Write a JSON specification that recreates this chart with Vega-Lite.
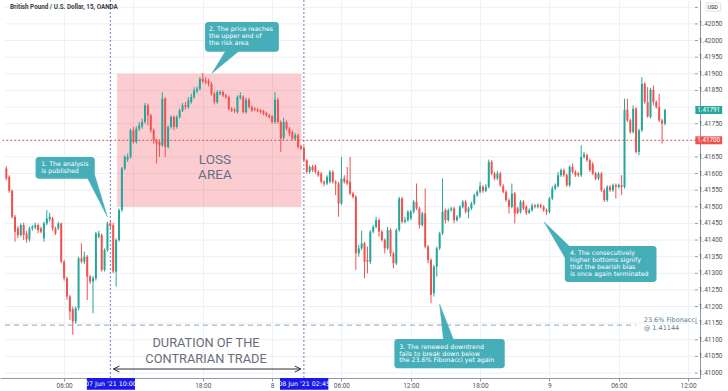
{
"$schema":"https://vega.github.io/schema/vega-lite/v6.json",
"width":700,"height":378,"padding":{"left":0,"top":0,"right":28,"bottom":13},"autosize":"none",
"background":"#ffffff",
"config":{"view":{"stroke":null},"font":"Roboto","axis":{"title":null}},
"datasets":{
"candles":[
{"t":"2021-06-07T01:00Z","o":1.41615,"h":1.41622,"l":1.41580,"c":1.41585},
{"t":"2021-06-07T01:15Z","o":1.41590,"h":1.41595,"l":1.41542,"c":1.41548},
{"t":"2021-06-07T01:30Z","o":1.41548,"h":1.41552,"l":1.41465,"c":1.41470},
{"t":"2021-06-07T01:45Z","o":1.41470,"h":1.41475,"l":1.41395,"c":1.41425},
{"t":"2021-06-07T02:00Z","o":1.41435,"h":1.41442,"l":1.41405,"c":1.41415},
{"t":"2021-06-07T02:15Z","o":1.41415,"h":1.41450,"l":1.41410,"c":1.41445},
{"t":"2021-06-07T02:30Z","o":1.41445,"h":1.41452,"l":1.41400,"c":1.41415},
{"t":"2021-06-07T02:45Z","o":1.41420,"h":1.41428,"l":1.41392,"c":1.41402},
{"t":"2021-06-07T03:00Z","o":1.41402,"h":1.41440,"l":1.41395,"c":1.41435},
{"t":"2021-06-07T03:15Z","o":1.41435,"h":1.41445,"l":1.41428,"c":1.41440},
{"t":"2021-06-07T03:30Z","o":1.41438,"h":1.41452,"l":1.41432,"c":1.41445},
{"t":"2021-06-07T03:45Z","o":1.41445,"h":1.41450,"l":1.41420,"c":1.41430},
{"t":"2021-06-07T04:00Z","o":1.41435,"h":1.41440,"l":1.41420,"c":1.41425},
{"t":"2021-06-07T04:15Z","o":1.41405,"h":1.41455,"l":1.41395,"c":1.41450},
{"t":"2021-06-07T04:30Z","o":1.41450,"h":1.41490,"l":1.41445,"c":1.41465},
{"t":"2021-06-07T04:45Z","o":1.41462,"h":1.41482,"l":1.41455,"c":1.41470},
{"t":"2021-06-07T05:00Z","o":1.41465,"h":1.41470,"l":1.41428,"c":1.41435},
{"t":"2021-06-07T05:15Z","o":1.41435,"h":1.41440,"l":1.41415,"c":1.41420},
{"t":"2021-06-07T05:30Z","o":1.41435,"h":1.41455,"l":1.41430,"c":1.41450},
{"t":"2021-06-07T05:45Z","o":1.41450,"h":1.41452,"l":1.41330,"c":1.41335},
{"t":"2021-06-07T06:00Z","o":1.41335,"h":1.41340,"l":1.41278,"c":1.41285},
{"t":"2021-06-07T06:15Z","o":1.41285,"h":1.41290,"l":1.41220,"c":1.41230},
{"t":"2021-06-07T06:30Z","o":1.41230,"h":1.41235,"l":1.41160,"c":1.41185},
{"t":"2021-06-07T06:45Z","o":1.41192,"h":1.41200,"l":1.41115,"c":1.41155},
{"t":"2021-06-07T07:00Z","o":1.41155,"h":1.41200,"l":1.41148,"c":1.41195},
{"t":"2021-06-07T07:15Z","o":1.41195,"h":1.41350,"l":1.41188,"c":1.41345},
{"t":"2021-06-07T07:30Z","o":1.41345,"h":1.41390,"l":1.41330,"c":1.41335},
{"t":"2021-06-07T07:45Z","o":1.41335,"h":1.41365,"l":1.41328,"c":1.41350},
{"t":"2021-06-07T08:00Z","o":1.41350,"h":1.41355,"l":1.41220,"c":1.41290},
{"t":"2021-06-07T08:15Z","o":1.41290,"h":1.41295,"l":1.41268,"c":1.41275},
{"t":"2021-06-07T08:30Z","o":1.41275,"h":1.41292,"l":1.41180,"c":1.41285},
{"t":"2021-06-07T08:45Z","o":1.41285,"h":1.41425,"l":1.41278,"c":1.41420},
{"t":"2021-06-07T09:00Z","o":1.41410,"h":1.41428,"l":1.41405,"c":1.41420},
{"t":"2021-06-07T09:15Z","o":1.41415,"h":1.41420,"l":1.41305,"c":1.41310},
{"t":"2021-06-07T09:30Z","o":1.41310,"h":1.41375,"l":1.41305,"c":1.41370},
{"t":"2021-06-07T09:45Z","o":1.41370,"h":1.41455,"l":1.41365,"c":1.41450},
{"t":"2021-06-07T10:00Z","o":1.41450,"h":1.41456,"l":1.41435,"c":1.41442},
{"t":"2021-06-07T10:15Z","o":1.41445,"h":1.41452,"l":1.41300,"c":1.41305},
{"t":"2021-06-07T10:30Z","o":1.41305,"h":1.41405,"l":1.41260,"c":1.41400},
{"t":"2021-06-07T10:45Z","o":1.41400,"h":1.41495,"l":1.41395,"c":1.41490},
{"t":"2021-06-07T11:00Z","o":1.41490,"h":1.41620,"l":1.41485,"c":1.41615},
{"t":"2021-06-07T11:15Z","o":1.41615,"h":1.41655,"l":1.41610,"c":1.41650},
{"t":"2021-06-07T11:30Z","o":1.41642,"h":1.41660,"l":1.41635,"c":1.41650},
{"t":"2021-06-07T11:45Z","o":1.41650,"h":1.41735,"l":1.41645,"c":1.41730},
{"t":"2021-06-07T12:00Z","o":1.41730,"h":1.41740,"l":1.41690,"c":1.41695},
{"t":"2021-06-07T12:15Z","o":1.41695,"h":1.41742,"l":1.41690,"c":1.41735},
{"t":"2021-06-07T12:30Z","o":1.41735,"h":1.41755,"l":1.41728,"c":1.41745},
{"t":"2021-06-07T12:45Z","o":1.41742,"h":1.41765,"l":1.41735,"c":1.41755},
{"t":"2021-06-07T13:00Z","o":1.41755,"h":1.41812,"l":1.41750,"c":1.41805},
{"t":"2021-06-07T13:15Z","o":1.41805,"h":1.41810,"l":1.41745,"c":1.41775},
{"t":"2021-06-07T13:30Z","o":1.41775,"h":1.41780,"l":1.41722,"c":1.41730},
{"t":"2021-06-07T13:45Z","o":1.41730,"h":1.41735,"l":1.41690,"c":1.41700},
{"t":"2021-06-07T14:00Z","o":1.41700,"h":1.41705,"l":1.41630,"c":1.41690},
{"t":"2021-06-07T14:15Z","o":1.41695,"h":1.41702,"l":1.41650,"c":1.41685},
{"t":"2021-06-07T14:30Z","o":1.41685,"h":1.41845,"l":1.41680,"c":1.41825},
{"t":"2021-06-07T14:45Z","o":1.41825,"h":1.41830,"l":1.41650,"c":1.41680},
{"t":"2021-06-07T15:00Z","o":1.41680,"h":1.41745,"l":1.41675,"c":1.41740},
{"t":"2021-06-07T15:15Z","o":1.41740,"h":1.41775,"l":1.41735,"c":1.41770},
{"t":"2021-06-07T15:30Z","o":1.41770,"h":1.41775,"l":1.41730,"c":1.41740},
{"t":"2021-06-07T15:45Z","o":1.41740,"h":1.41775,"l":1.41735,"c":1.41770},
{"t":"2021-06-07T16:00Z","o":1.41770,"h":1.41795,"l":1.41765,"c":1.41790},
{"t":"2021-06-07T16:15Z","o":1.41790,"h":1.41812,"l":1.41785,"c":1.41805},
{"t":"2021-06-07T16:30Z","o":1.41805,"h":1.41815,"l":1.41792,"c":1.41800},
{"t":"2021-06-07T16:45Z","o":1.41800,"h":1.41830,"l":1.41795,"c":1.41820},
{"t":"2021-06-07T17:00Z","o":1.41815,"h":1.41840,"l":1.41810,"c":1.41830},
{"t":"2021-06-07T17:15Z","o":1.41830,"h":1.41860,"l":1.41825,"c":1.41850},
{"t":"2021-06-07T17:30Z","o":1.41848,"h":1.41862,"l":1.41842,"c":1.41855},
{"t":"2021-06-07T17:45Z","o":1.41855,"h":1.41890,"l":1.41850,"c":1.41885},
{"t":"2021-06-07T18:00Z","o":1.41885,"h":1.41902,"l":1.41872,"c":1.41878},
{"t":"2021-06-07T18:15Z","o":1.41880,"h":1.41890,"l":1.41868,"c":1.41875},
{"t":"2021-06-07T18:30Z","o":1.41878,"h":1.41885,"l":1.41862,"c":1.41870},
{"t":"2021-06-07T18:45Z","o":1.41870,"h":1.41875,"l":1.41835,"c":1.41840},
{"t":"2021-06-07T19:00Z","o":1.41840,"h":1.41845,"l":1.41808,"c":1.41815},
{"t":"2021-06-07T19:15Z","o":1.41815,"h":1.41850,"l":1.41810,"c":1.41845},
{"t":"2021-06-07T19:30Z","o":1.41840,"h":1.41850,"l":1.41835,"c":1.41845},
{"t":"2021-06-07T19:45Z","o":1.41845,"h":1.41850,"l":1.41830,"c":1.41835},
{"t":"2021-06-07T20:00Z","o":1.41835,"h":1.41840,"l":1.41825,"c":1.41830},
{"t":"2021-06-07T20:15Z","o":1.41830,"h":1.41835,"l":1.41790,"c":1.41795},
{"t":"2021-06-07T20:30Z","o":1.41795,"h":1.41800,"l":1.41785,"c":1.41790},
{"t":"2021-06-07T20:45Z","o":1.41792,"h":1.41798,"l":1.41782,"c":1.41788},
{"t":"2021-06-07T21:00Z","o":1.41785,"h":1.41835,"l":1.41780,"c":1.41830},
{"t":"2021-06-07T21:15Z","o":1.41828,"h":1.41845,"l":1.41822,"c":1.41835},
{"t":"2021-06-07T21:30Z","o":1.41830,"h":1.41835,"l":1.41780,"c":1.41785},
{"t":"2021-06-07T21:45Z","o":1.41785,"h":1.41828,"l":1.41780,"c":1.41822},
{"t":"2021-06-07T22:00Z","o":1.41822,"h":1.41828,"l":1.41795,"c":1.41800},
{"t":"2021-06-07T22:15Z","o":1.41800,"h":1.41805,"l":1.41785,"c":1.41790},
{"t":"2021-06-07T22:30Z","o":1.41795,"h":1.41800,"l":1.41788,"c":1.41792},
{"t":"2021-06-07T22:45Z","o":1.41792,"h":1.41797,"l":1.41784,"c":1.41788},
{"t":"2021-06-07T23:00Z","o":1.41790,"h":1.41794,"l":1.41780,"c":1.41785},
{"t":"2021-06-07T23:15Z","o":1.41788,"h":1.41792,"l":1.41775,"c":1.41780},
{"t":"2021-06-07T23:30Z","o":1.41782,"h":1.41786,"l":1.41770,"c":1.41775},
{"t":"2021-06-07T23:45Z","o":1.41775,"h":1.41780,"l":1.41765,"c":1.41770},
{"t":"2021-06-08T00:00Z","o":1.41772,"h":1.41776,"l":1.41750,"c":1.41755},
{"t":"2021-06-08T00:15Z","o":1.41755,"h":1.41845,"l":1.41750,"c":1.41822},
{"t":"2021-06-08T00:30Z","o":1.41822,"h":1.41828,"l":1.41750,"c":1.41755},
{"t":"2021-06-08T00:45Z","o":1.41755,"h":1.41760,"l":1.41665,"c":1.41705},
{"t":"2021-06-08T01:00Z","o":1.41708,"h":1.41768,"l":1.41700,"c":1.41755},
{"t":"2021-06-08T01:15Z","o":1.41755,"h":1.41760,"l":1.41730,"c":1.41735},
{"t":"2021-06-08T01:30Z","o":1.41735,"h":1.41740,"l":1.41712,"c":1.41720},
{"t":"2021-06-08T01:45Z","o":1.41725,"h":1.41730,"l":1.41700,"c":1.41705},
{"t":"2021-06-08T02:00Z","o":1.41705,"h":1.41722,"l":1.41700,"c":1.41715},
{"t":"2021-06-08T02:15Z","o":1.41715,"h":1.41720,"l":1.41675,"c":1.41680},
{"t":"2021-06-08T02:30Z","o":1.41682,"h":1.41686,"l":1.41670,"c":1.41675},
{"t":"2021-06-08T02:45Z","o":1.41678,"h":1.41682,"l":1.41635,"c":1.41640},
{"t":"2021-06-08T03:00Z","o":1.41640,"h":1.41644,"l":1.41600,"c":1.41605},
{"t":"2021-06-08T03:15Z","o":1.41605,"h":1.41625,"l":1.41600,"c":1.41620},
{"t":"2021-06-08T03:30Z","o":1.41620,"h":1.41626,"l":1.41605,"c":1.41610},
{"t":"2021-06-08T03:45Z","o":1.41622,"h":1.41627,"l":1.41600,"c":1.41605},
{"t":"2021-06-08T04:00Z","o":1.41605,"h":1.41610,"l":1.41590,"c":1.41595},
{"t":"2021-06-08T04:15Z","o":1.41600,"h":1.41605,"l":1.41570,"c":1.41575},
{"t":"2021-06-08T04:30Z","o":1.41575,"h":1.41580,"l":1.41562,"c":1.41570},
{"t":"2021-06-08T04:45Z","o":1.41570,"h":1.41595,"l":1.41565,"c":1.41590},
{"t":"2021-06-08T05:00Z","o":1.41575,"h":1.41610,"l":1.41570,"c":1.41605},
{"t":"2021-06-08T05:15Z","o":1.41605,"h":1.41610,"l":1.41570,"c":1.41575},
{"t":"2021-06-08T05:30Z","o":1.41575,"h":1.41580,"l":1.41535,"c":1.41570},
{"t":"2021-06-08T05:45Z","o":1.41570,"h":1.41575,"l":1.41470,"c":1.41510},
{"t":"2021-06-08T06:00Z","o":1.41510,"h":1.41650,"l":1.41505,"c":1.41585},
{"t":"2021-06-08T06:15Z","o":1.41585,"h":1.41595,"l":1.41570,"c":1.41575},
{"t":"2021-06-08T06:30Z","o":1.41580,"h":1.41620,"l":1.41565,"c":1.41570},
{"t":"2021-06-08T06:45Z","o":1.41575,"h":1.41650,"l":1.41535,"c":1.41540},
{"t":"2021-06-08T07:00Z","o":1.41540,"h":1.41545,"l":1.41525,"c":1.41530},
{"t":"2021-06-08T07:15Z","o":1.41530,"h":1.41535,"l":1.41310,"c":1.41360},
{"t":"2021-06-08T07:30Z","o":1.41360,"h":1.41385,"l":1.41350,"c":1.41375},
{"t":"2021-06-08T07:45Z","o":1.41375,"h":1.41428,"l":1.41370,"c":1.41390},
{"t":"2021-06-08T08:00Z","o":1.41390,"h":1.41395,"l":1.41285,"c":1.41335},
{"t":"2021-06-08T08:15Z","o":1.41340,"h":1.41380,"l":1.41300,"c":1.41335},
{"t":"2021-06-08T08:30Z","o":1.41335,"h":1.41430,"l":1.41328,"c":1.41425},
{"t":"2021-06-08T08:45Z","o":1.41425,"h":1.41445,"l":1.41420,"c":1.41440},
{"t":"2021-06-08T09:00Z","o":1.41440,"h":1.41470,"l":1.41435,"c":1.41460},
{"t":"2021-06-08T09:15Z","o":1.41460,"h":1.41465,"l":1.41410,"c":1.41425},
{"t":"2021-06-08T09:30Z","o":1.41425,"h":1.41430,"l":1.41395,"c":1.41400},
{"t":"2021-06-08T09:45Z","o":1.41400,"h":1.41405,"l":1.41360,"c":1.41375},
{"t":"2021-06-08T10:00Z","o":1.41375,"h":1.41440,"l":1.41370,"c":1.41430},
{"t":"2021-06-08T10:15Z","o":1.41430,"h":1.41435,"l":1.41350,"c":1.41360},
{"t":"2021-06-08T10:30Z","o":1.41360,"h":1.41365,"l":1.41315,"c":1.41330},
{"t":"2021-06-08T10:45Z","o":1.41330,"h":1.41435,"l":1.41325,"c":1.41430},
{"t":"2021-06-08T11:00Z","o":1.41430,"h":1.41530,"l":1.41425,"c":1.41525},
{"t":"2021-06-08T11:15Z","o":1.41525,"h":1.41530,"l":1.41450,"c":1.41455},
{"t":"2021-06-08T11:30Z","o":1.41455,"h":1.41470,"l":1.41450,"c":1.41460},
{"t":"2021-06-08T11:45Z","o":1.41460,"h":1.41490,"l":1.41455,"c":1.41485},
{"t":"2021-06-08T12:00Z","o":1.41465,"h":1.41490,"l":1.41460,"c":1.41485},
{"t":"2021-06-08T12:15Z","o":1.41485,"h":1.41520,"l":1.41480,"c":1.41515},
{"t":"2021-06-08T12:30Z","o":1.41515,"h":1.41570,"l":1.41490,"c":1.41495},
{"t":"2021-06-08T12:45Z","o":1.41495,"h":1.41500,"l":1.41435,"c":1.41445},
{"t":"2021-06-08T13:00Z","o":1.41445,"h":1.41485,"l":1.41440,"c":1.41480},
{"t":"2021-06-08T13:15Z","o":1.41480,"h":1.41555,"l":1.41375,"c":1.41380},
{"t":"2021-06-08T13:30Z","o":1.41380,"h":1.41385,"l":1.41330,"c":1.41340},
{"t":"2021-06-08T13:45Z","o":1.41340,"h":1.41345,"l":1.41210,"c":1.41235},
{"t":"2021-06-08T14:00Z","o":1.41240,"h":1.41325,"l":1.41230,"c":1.41320},
{"t":"2021-06-08T14:15Z","o":1.41320,"h":1.41380,"l":1.41290,"c":1.41375},
{"t":"2021-06-08T14:30Z","o":1.41375,"h":1.41425,"l":1.41370,"c":1.41420},
{"t":"2021-06-08T14:45Z","o":1.41420,"h":1.41585,"l":1.41415,"c":1.41485},
{"t":"2021-06-08T15:00Z","o":1.41490,"h":1.41495,"l":1.41450,"c":1.41460},
{"t":"2021-06-08T15:15Z","o":1.41460,"h":1.41495,"l":1.41455,"c":1.41490},
{"t":"2021-06-08T15:30Z","o":1.41490,"h":1.41500,"l":1.41485,"c":1.41495},
{"t":"2021-06-08T15:45Z","o":1.41495,"h":1.41500,"l":1.41450,"c":1.41460},
{"t":"2021-06-08T16:00Z","o":1.41460,"h":1.41475,"l":1.41455,"c":1.41470},
{"t":"2021-06-08T16:15Z","o":1.41470,"h":1.41505,"l":1.41465,"c":1.41500},
{"t":"2021-06-08T16:30Z","o":1.41500,"h":1.41520,"l":1.41495,"c":1.41515},
{"t":"2021-06-08T16:45Z","o":1.41515,"h":1.41520,"l":1.41480,"c":1.41485},
{"t":"2021-06-08T17:00Z","o":1.41485,"h":1.41500,"l":1.41465,"c":1.41495},
{"t":"2021-06-08T17:15Z","o":1.41495,"h":1.41515,"l":1.41490,"c":1.41510},
{"t":"2021-06-08T17:30Z","o":1.41510,"h":1.41540,"l":1.41505,"c":1.41535},
{"t":"2021-06-08T17:45Z","o":1.41535,"h":1.41550,"l":1.41530,"c":1.41545},
{"t":"2021-06-08T18:00Z","o":1.41545,"h":1.41575,"l":1.41540,"c":1.41562},
{"t":"2021-06-08T18:15Z","o":1.41560,"h":1.41565,"l":1.41542,"c":1.41548},
{"t":"2021-06-08T18:30Z","o":1.41548,"h":1.41568,"l":1.41544,"c":1.41560},
{"t":"2021-06-08T18:45Z","o":1.41560,"h":1.41642,"l":1.41555,"c":1.41635},
{"t":"2021-06-08T19:00Z","o":1.41635,"h":1.41640,"l":1.41595,"c":1.41600},
{"t":"2021-06-08T19:15Z","o":1.41600,"h":1.41605,"l":1.41580,"c":1.41585},
{"t":"2021-06-08T19:30Z","o":1.41585,"h":1.41608,"l":1.41580,"c":1.41600},
{"t":"2021-06-08T19:45Z","o":1.41600,"h":1.41605,"l":1.41560,"c":1.41565},
{"t":"2021-06-08T20:00Z","o":1.41562,"h":1.41568,"l":1.41540,"c":1.41545},
{"t":"2021-06-08T20:15Z","o":1.41545,"h":1.41550,"l":1.41515,"c":1.41520},
{"t":"2021-06-08T20:30Z","o":1.41520,"h":1.41525,"l":1.41480,"c":1.41500},
{"t":"2021-06-08T20:45Z","o":1.41500,"h":1.41570,"l":1.41495,"c":1.41540},
{"t":"2021-06-08T21:00Z","o":1.41540,"h":1.41545,"l":1.41450,"c":1.41480},
{"t":"2021-06-08T21:15Z","o":1.41495,"h":1.41500,"l":1.41478,"c":1.41482},
{"t":"2021-06-08T21:30Z","o":1.41485,"h":1.41520,"l":1.41480,"c":1.41515},
{"t":"2021-06-08T21:45Z","o":1.41515,"h":1.41520,"l":1.41490,"c":1.41495},
{"t":"2021-06-08T22:00Z","o":1.41500,"h":1.41505,"l":1.41475,"c":1.41482},
{"t":"2021-06-08T22:15Z","o":1.41482,"h":1.41495,"l":1.41478,"c":1.41490},
{"t":"2021-06-08T22:30Z","o":1.41490,"h":1.41510,"l":1.41485,"c":1.41504},
{"t":"2021-06-08T22:45Z","o":1.41504,"h":1.41508,"l":1.41495,"c":1.41500},
{"t":"2021-06-08T23:00Z","o":1.41500,"h":1.41510,"l":1.41495,"c":1.41505},
{"t":"2021-06-08T23:15Z","o":1.41505,"h":1.41510,"l":1.41495,"c":1.41500},
{"t":"2021-06-08T23:30Z","o":1.41500,"h":1.41505,"l":1.41485,"c":1.41490},
{"t":"2021-06-08T23:45Z","o":1.41490,"h":1.41495,"l":1.41475,"c":1.41485},
{"t":"2021-06-09T00:00Z","o":1.41485,"h":1.41530,"l":1.41480,"c":1.41525},
{"t":"2021-06-09T00:15Z","o":1.41525,"h":1.41562,"l":1.41520,"c":1.41555},
{"t":"2021-06-09T00:30Z","o":1.41555,"h":1.41570,"l":1.41550,"c":1.41565},
{"t":"2021-06-09T00:45Z","o":1.41562,"h":1.41605,"l":1.41558,"c":1.41595},
{"t":"2021-06-09T01:00Z","o":1.41595,"h":1.41615,"l":1.41590,"c":1.41610},
{"t":"2021-06-09T01:15Z","o":1.41610,"h":1.41615,"l":1.41590,"c":1.41595},
{"t":"2021-06-09T01:30Z","o":1.41595,"h":1.41600,"l":1.41560,"c":1.41565},
{"t":"2021-06-09T01:45Z","o":1.41565,"h":1.41625,"l":1.41560,"c":1.41620},
{"t":"2021-06-09T02:00Z","o":1.41620,"h":1.41630,"l":1.41600,"c":1.41605},
{"t":"2021-06-09T02:15Z","o":1.41605,"h":1.41610,"l":1.41590,"c":1.41595},
{"t":"2021-06-09T02:30Z","o":1.41600,"h":1.41605,"l":1.41590,"c":1.41595},
{"t":"2021-06-09T02:45Z","o":1.41595,"h":1.41685,"l":1.41590,"c":1.41650},
{"t":"2021-06-09T03:00Z","o":1.41650,"h":1.41665,"l":1.41645,"c":1.41658},
{"t":"2021-06-09T03:15Z","o":1.41655,"h":1.41660,"l":1.41635,"c":1.41640},
{"t":"2021-06-09T03:30Z","o":1.41640,"h":1.41645,"l":1.41605,"c":1.41610},
{"t":"2021-06-09T03:45Z","o":1.41628,"h":1.41635,"l":1.41595,"c":1.41600},
{"t":"2021-06-09T04:00Z","o":1.41600,"h":1.41605,"l":1.41580,"c":1.41585},
{"t":"2021-06-09T04:15Z","o":1.41585,"h":1.41605,"l":1.41580,"c":1.41600},
{"t":"2021-06-09T04:30Z","o":1.41600,"h":1.41605,"l":1.41545,"c":1.41550},
{"t":"2021-06-09T04:45Z","o":1.41550,"h":1.41555,"l":1.41515,"c":1.41520},
{"t":"2021-06-09T05:00Z","o":1.41520,"h":1.41565,"l":1.41515,"c":1.41560},
{"t":"2021-06-09T05:15Z","o":1.41560,"h":1.41565,"l":1.41545,"c":1.41550},
{"t":"2021-06-09T05:30Z","o":1.41550,"h":1.41570,"l":1.41545,"c":1.41565},
{"t":"2021-06-09T05:45Z","o":1.41565,"h":1.41570,"l":1.41525,"c":1.41560},
{"t":"2021-06-09T06:00Z","o":1.41560,"h":1.41570,"l":1.41555,"c":1.41565},
{"t":"2021-06-09T06:15Z","o":1.41565,"h":1.41595,"l":1.41535,"c":1.41560},
{"t":"2021-06-09T06:30Z","o":1.41560,"h":1.41825,"l":1.41555,"c":1.41792},
{"t":"2021-06-09T06:45Z","o":1.41792,"h":1.41825,"l":1.41755,"c":1.41760},
{"t":"2021-06-09T07:00Z","o":1.41760,"h":1.41765,"l":1.41720,"c":1.41725},
{"t":"2021-06-09T07:15Z","o":1.41725,"h":1.41805,"l":1.41720,"c":1.41795},
{"t":"2021-06-09T07:30Z","o":1.41795,"h":1.41800,"l":1.41660,"c":1.41665},
{"t":"2021-06-09T07:45Z","o":1.41665,"h":1.41735,"l":1.41655,"c":1.41730},
{"t":"2021-06-09T08:00Z","o":1.41730,"h":1.41890,"l":1.41725,"c":1.41870},
{"t":"2021-06-09T08:15Z","o":1.41870,"h":1.41875,"l":1.41810,"c":1.41815},
{"t":"2021-06-09T08:30Z","o":1.41815,"h":1.41860,"l":1.41768,"c":1.41772},
{"t":"2021-06-09T08:45Z","o":1.41770,"h":1.41858,"l":1.41765,"c":1.41852},
{"t":"2021-06-09T09:00Z","o":1.41852,"h":1.41865,"l":1.41805,"c":1.41815},
{"t":"2021-06-09T09:15Z","o":1.41815,"h":1.41820,"l":1.41795,"c":1.41800},
{"t":"2021-06-09T09:30Z","o":1.41800,"h":1.41840,"l":1.41755,"c":1.41760},
{"t":"2021-06-09T09:45Z","o":1.41760,"h":1.41765,"l":1.41690,"c":1.41750},
{"t":"2021-06-09T10:00Z","o":1.41750,"h":1.41795,"l":1.41745,"c":1.41791}
],
"levels":[
{"p":1.4100,"lab":"1.41000"},{"p":1.4105,"lab":"1.41050"},{"p":1.4110,"lab":"1.41100"},{"p":1.4115,"lab":"1.41150"},
{"p":1.4120,"lab":"1.41200"},{"p":1.4125,"lab":"1.41250"},{"p":1.4130,"lab":"1.41300"},{"p":1.4135,"lab":"1.41350"},
{"p":1.4140,"lab":"1.41400"},{"p":1.4145,"lab":"1.41450"},{"p":1.4150,"lab":"1.41500"},{"p":1.4155,"lab":"1.41550"},
{"p":1.4160,"lab":"1.41600"},{"p":1.4165,"lab":"1.41650"},{"p":1.4170,"lab":""},{"p":1.4175,"lab":"1.41750"},
{"p":1.4180,"lab":""},{"p":1.4185,"lab":"1.41850"},{"p":1.4190,"lab":"1.41900"},{"p":1.4195,"lab":"1.41950"},
{"p":1.4200,"lab":"1.42000"},{"p":1.4205,"lab":"1.42050"},{"p":1.4210,"lab":""}
],
"boxes":[
{"t1":"2021-06-07T03:32Z","t2":"2021-06-07T08:39Z","p1":1.41650,"p2":1.41584},
{"t1":"2021-06-07T18:12Z","t2":"2021-06-08T00:35Z","p1":1.42056,"p2":1.41966},
{"t1":"2021-06-08T10:35Z","t2":"2021-06-08T20:08Z","p1":1.41102,"p2":1.41014},
{"t1":"2021-06-09T01:20Z","t2":"2021-06-09T09:16Z","p1":1.41382,"p2":1.41274}
],
"pointers":[
{"id":1,"k":0,"t":"2021-06-07T08:02Z","p":1.41586},
{"id":1,"k":1,"t":"2021-06-07T09:45Z","p":1.41469},
{"id":1,"k":2,"t":"2021-06-07T08:39Z","p":1.41595},
{"id":2,"k":0,"t":"2021-06-07T20:00Z","p":1.41970},
{"id":2,"k":1,"t":"2021-06-07T18:48Z","p":1.41902},
{"id":2,"k":2,"t":"2021-06-07T21:11Z","p":1.41970},
{"id":3,"k":0,"t":"2021-06-08T14:50Z","p":1.41100},
{"id":3,"k":1,"t":"2021-06-08T14:30Z","p":1.41207},
{"id":3,"k":2,"t":"2021-06-08T15:42Z","p":1.41100},
{"id":4,"k":0,"t":"2021-06-09T01:46Z","p":1.41380},
{"id":4,"k":1,"t":"2021-06-08T23:33Z","p":1.41454},
{"id":4,"k":2,"t":"2021-06-09T01:22Z","p":1.41346}
],
"notes":[
{"t":"2021-06-07T04:01Z","p":1.41629,"txt":"1. The analysis\nis published"},
{"t":"2021-06-07T18:32Z","p":1.42035,"txt":"2. The price reaches\nthe upper end of\nthe risk area"},
{"t":"2021-06-08T11:00Z","p":1.41079,"txt":"3. The renewed downtrend\nfails to break down below\nthe 23.6% Fibonacci yet again"},
{"t":"2021-06-09T01:47Z","p":1.41360,"txt":"4. The consecutively\nhigher bottoms signify\nthat the bearish bias\nis once again terminated"}
],
"arrow":[
{"id":"a","k":0,"t":"2021-06-07T10:16Z","p":1.41012},
{"id":"a","k":1,"t":"2021-06-08T02:29Z","p":1.41012},
{"id":"l","k":0,"t":"2021-06-07T10:47Z","p":1.41021},
{"id":"l","k":1,"t":"2021-06-07T10:16Z","p":1.41012},
{"id":"l","k":2,"t":"2021-06-07T10:47Z","p":1.41003},
{"id":"r","k":0,"t":"2021-06-08T01:58Z","p":1.41021},
{"id":"r","k":1,"t":"2021-06-08T02:29Z","p":1.41012},
{"id":"r","k":2,"t":"2021-06-08T01:58Z","p":1.41003}
]
},
"layer":[
{"data":{"name":"levels"},
 "mark":{"type":"rule","color":"#edf0f6","strokeWidth":1},
 "encoding":{
  "x":{"datum":{"year":2021,"month":6,"date":7,"hours":0,"minutes":53,"utc":true},"type":"temporal","scale":{"type":"utc","domain":[1623027180000,1623242160000]},
   "axis":{"values":[1623045600000,1623067200000,1623088800000,1623110400000,1623132000000,1623153600000,1623175200000,1623196800000,1623218400000,1623240000000],
    "labelExpr":"(utchours(datum.value) == 12 && utcdate(datum.value) == 7) ? '' : (utchours(datum.value) == 0 ? utcFormat(datum.value, '%-d') : utcFormat(datum.value, '%H:%M'))",
    "title":null,"grid":true,"gridColor":"#edf0f6","domainColor":"#9598a1","tickColor":"#9598a1","tickSize":3,"labelFontSize":6.5,"labelColor":"#50535e","labelPadding":1,"labelFlush":false,"labelOverlap":false,"zindex":0}},
  "x2":{"datum":{"year":2021,"month":6,"date":9,"hours":12,"minutes":36,"utc":true}},
  "y":{"field":"p","type":"quantitative","scale":{"domain":[1.40985,1.42122],"zero":false,"nice":false},
   "axis":{"orient":"right","labels":false,"ticks":false,"grid":false,"domainColor":"#9598a1","title":null,"zindex":0}}}},
{"data":{"name":"levels"},
 "layer":[
  {"mark":{"type":"rule","color":"#9598a1","strokeWidth":1,"clip":false},
   "encoding":{"x":{"datum":{"year":2021,"month":6,"date":9,"hours":12,"minutes":36,"utc":true},"type":"temporal"},"x2":{"datum":{"year":2021,"month":6,"date":9,"hours":12,"minutes":51,"utc":true}},"y":{"field":"p","type":"quantitative"}}},
  {"mark":{"type":"text","fontSize":6.5,"color":"#50535e","align":"left","baseline":"middle","clip":false,"font":"Roboto"},
   "encoding":{"x":{"datum":{"year":2021,"month":6,"date":9,"hours":12,"minutes":56,"utc":true},"type":"temporal"},"y":{"field":"p","type":"quantitative"},"text":{"field":"lab"}}}
 ]},
{"data":{"values":[{"t1":"2021-06-07T10:35Z","t2":"2021-06-08T02:32Z","p1":1.4190,"p2":1.4150}]},
 "mark":{"type":"rect","fill":"#f23645","opacity":0.25},
 "encoding":{"x":{"field":"t1","type":"temporal"},"x2":{"field":"t2"},"y":{"field":"p1","type":"quantitative"},"y2":{"field":"p2"}}},
{"data":{"values":[{"t":"2021-06-07T10:00Z"},{"t":"2021-06-08T02:45Z"}]},
 "mark":{"type":"rule","color":"#7a7ac4","strokeDash":[2,2],"strokeWidth":1},
 "encoding":{"x":{"field":"t","type":"temporal"}}},
{"data":{"values":[{"p":1.417}]},
 "mark":{"type":"rule","color":"#f23645","strokeDash":[1.5,2.5],"strokeWidth":1},
 "encoding":{"y":{"field":"p","type":"quantitative"}}},
{"data":{"values":[{"t1":"2021-06-07T00:53Z","t2":"2021-06-09T07:29Z","p":1.41144}]},
 "mark":{"type":"rule","color":"#8aa9bf","strokeDash":[5,4],"strokeWidth":1},
 "encoding":{"x":{"field":"t1","type":"temporal"},"x2":{"field":"t2"},"y":{"field":"p","type":"quantitative"}}},
{"data":{"name":"candles"},
 "mark":{"type":"rule","strokeWidth":1},
 "encoding":{"x":{"field":"t","type":"temporal"},"y":{"field":"l","type":"quantitative"},"y2":{"field":"h"},
  "color":{"condition":{"test":"datum.c >= datum.o","value":"#26a69a"},"value":"#ef5350"}}},
{"data":{"name":"candles"},
 "mark":{"type":"bar","size":2},
 "encoding":{"x":{"field":"t","type":"temporal"},"y":{"field":"o","type":"quantitative"},"y2":{"field":"c"},
  "color":{"condition":{"test":"datum.c >= datum.o","value":"#26a69a"},"value":"#ef5350"}}},
{"data":{"values":[{"t":"2021-06-07T19:03Z","p":1.41641,"txt":"LOSS\nAREA"}]},
 "mark":{"type":"text","lineBreak":"\n","fontSize":13.5,"lineHeight":15,"color":"#6b6e86","align":"center","baseline":"middle","font":"Roboto"},
 "encoding":{"x":{"field":"t","type":"temporal"},"y":{"field":"p","type":"quantitative"},"text":{"field":"txt"}}},
{"data":{"values":[{"t":"2021-06-07T18:17Z","p":1.41090,"txt":"DURATION OF THE\nCONTRARIAN TRADE"}]},
 "mark":{"type":"text","lineBreak":"\n","fontSize":12.8,"lineHeight":16,"color":"#6a6d78","align":"center","baseline":"middle","font":"Roboto"},
 "encoding":{"x":{"field":"t","type":"temporal"},"y":{"field":"p","type":"quantitative"},"text":{"field":"txt"}}},
{"data":{"name":"arrow"},
 "mark":{"type":"line","color":"#2a2e39","strokeWidth":1,"interpolate":"linear"},
 "encoding":{"x":{"field":"t","type":"temporal"},"y":{"field":"p","type":"quantitative"},"detail":{"field":"id"},"order":{"field":"k"}}},
{"data":{"name":"boxes"},
 "mark":{"type":"rect","fill":"#45aeb9","cornerRadius":3},
 "encoding":{"x":{"field":"t1","type":"temporal"},"x2":{"field":"t2"},"y":{"field":"p1","type":"quantitative"},"y2":{"field":"p2"}}},
{"data":{"name":"pointers"},
 "mark":{"type":"line","fill":"#45aeb9","stroke":"#45aeb9","strokeWidth":0.5,"interpolate":"linear"},
 "encoding":{"x":{"field":"t","type":"temporal"},"y":{"field":"p","type":"quantitative"},"detail":{"field":"id"},"order":{"field":"k"}}},
{"data":{"name":"notes"},
 "mark":{"type":"text","lineBreak":"\n","fontSize":6.3,"lineHeight":6.8,"color":"#ffffff","align":"left","baseline":"middle","font":"DejaVu Sans"},
 "encoding":{"x":{"field":"t","type":"temporal"},"y":{"field":"p","type":"quantitative"},"text":{"field":"txt"}}},
{"data":{"values":[{"t":"2021-06-09T08:10Z","p":1.41168,"txt":"23.6% Fibonacci\n@ 1.41144"}]},
 "mark":{"type":"text","lineBreak":"\n","fontSize":6.5,"lineHeight":8,"color":"#5b7a90","align":"left","baseline":"top","font":"DejaVu Sans"},
 "encoding":{"x":{"field":"t","type":"temporal"},"y":{"field":"p","type":"quantitative"},"text":{"field":"txt"}}},
{"data":{"values":[{"t1":"2021-06-07T07:58Z","t2":"2021-06-07T12:08Z","tc":"2021-06-07T10:03Z","p1":1.40985,"p2":1.40950,"pc":1.40967,"txt":"07 Jun '21   10:00"},{"t1":"2021-06-08T00:41Z","t2":"2021-06-08T04:52Z","tc":"2021-06-08T02:46Z","p1":1.40985,"p2":1.40950,"pc":1.40967,"txt":"08 Jun '21   02:45"}]},
 "layer":[
  {"mark":{"type":"rect","fill":"#1a1ae6","clip":false},
   "encoding":{"x":{"field":"t1","type":"temporal"},"x2":{"field":"t2"},"y":{"field":"p1","type":"quantitative"},"y2":{"field":"p2"}}},
  {"mark":{"type":"text","fontSize":6.3,"color":"#ffffff","align":"center","baseline":"middle","clip":false,"font":"DejaVu Sans"},
   "encoding":{"x":{"field":"tc","type":"temporal"},"y":{"field":"pc","type":"quantitative"},"text":{"field":"txt"}}}
 ]},
{"data":{"values":[{"t1":"2021-06-09T12:38Z","t2":"2021-06-09T14:57Z","tc":"2021-06-09T13:47Z","p":1.41791,"txt":"1.41791","col":"#26a69a"},{"t1":"2021-06-09T12:38Z","t2":"2021-06-09T14:57Z","tc":"2021-06-09T13:47Z","p":1.417,"txt":"1.41700","col":"#ef5350"}]},
 "layer":[
  {"mark":{"type":"rect","clip":false,"height":8},
   "encoding":{"x":{"field":"t1","type":"temporal"},"x2":{"field":"t2"},"y":{"field":"p","type":"quantitative"},"color":{"field":"col","type":"nominal","scale":null}}},
  {"mark":{"type":"text","fontSize":6.3,"color":"#ffffff","align":"center","baseline":"middle","clip":false,"font":"Roboto"},
   "encoding":{"x":{"field":"tc","type":"temporal"},"y":{"field":"p","type":"quantitative"},"text":{"field":"txt"}}}
 ]},
{"data":{"values":[{"t1":"2021-06-09T13:32Z","t2":"2021-06-09T14:49Z","tc":"2021-06-09T14:08Z","p1":1.42113,"p2":1.42089,"pc":1.42101,"txt":"USD"}]},
 "layer":[
  {"mark":{"type":"rect","clip":false,"fill":"#ffffff","stroke":"#d1d4dc","strokeWidth":0.7,"cornerRadius":1},
   "encoding":{"x":{"field":"t1","type":"temporal"},"x2":{"field":"t2"},"y":{"field":"p1","type":"quantitative"},"y2":{"field":"p2"}}},
  {"mark":{"type":"text","fontSize":5.5,"color":"#131722","align":"center","baseline":"middle","clip":false,"font":"Roboto"},
   "encoding":{"x":{"field":"tc","type":"temporal"},"y":{"field":"pc","type":"quantitative"},"text":{"field":"txt"}}}
 ]},
{"data":{"values":[{"t":"2021-06-07T01:19Z","p":1.42101,"txt":"British Pound / U.S. Dollar, 15, OANDA"}]},
 "mark":{"type":"text","fontSize":6.3,"fontWeight":"bold","color":"#3a3d48","align":"left","baseline":"middle","font":"Roboto"},
 "encoding":{"x":{"field":"t","type":"temporal"},"y":{"field":"p","type":"quantitative"},"text":{"field":"txt"}}}
]
}
